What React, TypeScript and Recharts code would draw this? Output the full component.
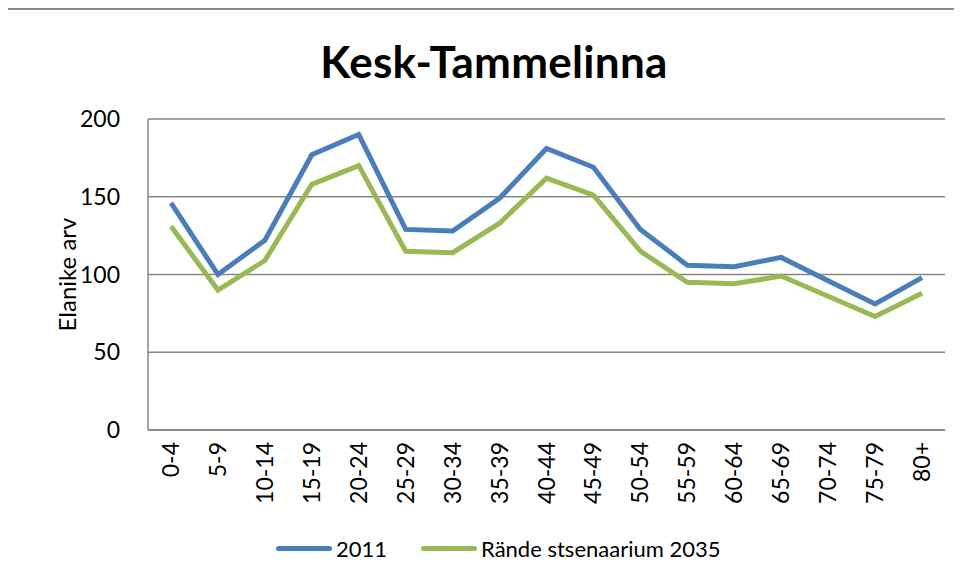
import React from 'react';
import { LineChart, Line, XAxis, YAxis, CartesianGrid } from 'recharts';

// vanuserühmad
const ageGroups = ['0-4', '5-9', '10-14', '15-19', '20-24', '25-29', '30-34', '35-39', '40-44', '45-49', '50-54', '55-59', '60-64', '65-69', '70-74', '75-79', '80+'];
const values2011 = [146, 100, 122, 177, 190, 129, 128, 149, 181, 169, 129, 106, 105, 111, 96, 81, 98];
const values2035 = [131, 90, 109, 158, 170, 115, 114, 133, 162, 151, 115, 95, 94, 99, 86, 73, 88];
const yTicks = [0, 50, 100, 150, 200];

const data = ageGroups.map((name, i) => ({ name, a: values2011[i], b: values2035[i] }));

const FONT = 'Lato, "Open Sans", sans-serif';
const BLUE = '#4A7EBB';
const GREEN = '#98B954';

const XTick = (props: any) => {
    const { x, y, payload } = props;
    return (
        <text x={x + 8} y={y + 4} transform={`rotate(-90, ${x + 8}, ${y + 4})`} textAnchor="end" fontSize={23} fontFamily={FONT} fill="#000">
            {payload.value}
        </text>
    );
};

export default function App() {
    return (
        <div style={{ position: 'relative', width: 954, height: 572, marginLeft: -3, fontFamily: FONT }}>
            <div style={{ position: 'absolute', left: 0, width: 978, top: 27, textAlign: 'center', fontSize: 44, fontWeight: 'bold', letterSpacing: 0.3 }}>
                Kesk-Tammelinna
            </div>
            <LineChart width={960} height={570} data={data} margin={{ top: 111, right: 20, bottom: 58, left: 0 }} style={{ position: 'absolute', left: 0, top: 0 }}>
                <CartesianGrid vertical={false} stroke="#868686" strokeWidth={1.5} />
                <XAxis dataKey="name" interval={0} height={90} padding={{ left: 23, right: 23 }} tickLine={false} axisLine={{ stroke: '#868686', strokeWidth: 1.5 }} tick={<XTick />} />
                <YAxis domain={[0, 200]} ticks={yTicks} width={143} tickLine={false} axisLine={{ stroke: '#868686', strokeWidth: 1.5 }} tick={{ fontSize: 23, fill: '#000', fontFamily: FONT }} tickMargin={22}
                    label={{ value: 'Elanike arv', angle: -90, position: 'insideLeft', offset: 62, style: { fontSize: 24, fill: '#000', fontFamily: FONT, textAnchor: 'middle' } }} />
                <Line type="linear" dataKey="a" name="2011" stroke={BLUE} strokeWidth={5} dot={false} isAnimationActive={false} />
                <Line type="linear" dataKey="b" name="Rände stsenaarium 2035" stroke={GREEN} strokeWidth={5} dot={false} isAnimationActive={false} />
            </LineChart>
            <div style={{ position: 'absolute', left: 271, top: 527, display: 'flex', alignItems: 'center', fontSize: 22 }}>
                <span style={{ display: 'inline-block', width: 56, height: 5, borderRadius: 3, background: BLUE }} />
                <span style={{ marginLeft: 4 }}>2011</span>
                <span style={{ display: 'inline-block', width: 56, height: 5, borderRadius: 3, background: GREEN, marginLeft: 34 }} />
                <span style={{ marginLeft: 4 }}>Rände stsenaarium 2035</span>
            </div>
            {/* kaardi raam */}
            <div style={{ position: 'absolute', left: 0, top: 0, width: 2, height: 572, background: '#8c8c8c', zIndex: 5 }} />
            <div style={{ position: 'absolute', left: 0, top: 0, width: 960, height: 2, background: '#8c8c8c', zIndex: 5 }} />
        </div>
    );
}
